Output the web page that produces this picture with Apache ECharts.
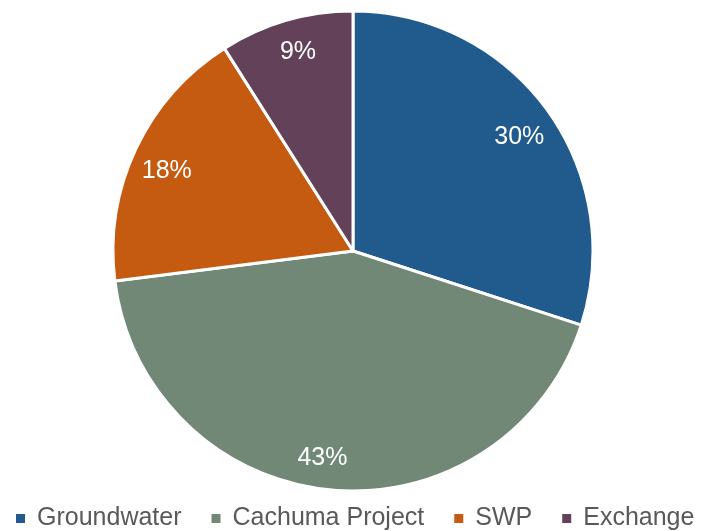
<!DOCTYPE html>
<html>
<head>
<meta charset="utf-8">
<style>
  html, body { margin: 0; padding: 0; background: #fff; }
  #chart { width: 703px; height: 531px; }
</style>
<script src="https://cdn.jsdelivr.net/npm/echarts@6/dist/echarts.min.js"></script>
</head>
<body>
<div id="chart"></div>
<script>
const categories = ['Groundwater', 'Cachuma Project', 'SWP', 'Exchange']
const shares = [30, 43, 18, 9]
const colors = ['#215A8C', '#728877', '#C55A11', '#634158']

const font = '"Liberation Sans", Arial, sans-serif'
const data = categories.map((name, i) => ({ name, value: shares[i], itemStyle: { color: colors[i] } }))
// small per-label nudges (px) so the labels sit where the original put them
const nudge = [[-2, 8], [-11, 0], [2, 9], [3, 1]]

const chart = echarts.init(document.getElementById('chart'))
chart.setOption({
  animation: false,
  color: colors,
  legend: {
    data: categories,
    left: 14,
    top: 506,
    width: 689,
    padding: 0,
    icon: 'rect',
    itemWidth: 11,
    itemHeight: 11,
    itemGap: 28,
    textStyle: { fontFamily: font, fontSize: 25, color: '#595959', padding: [0, 0, 0, 6] }
  },
  series: [
    {
      type: 'pie',
      center: [353, 251],
      radius: [0, 240],
      startAngle: 90,
      clockwise: true,
      silent: true,
      label: { show: false },
      labelLine: { show: false },
      itemStyle: { borderColor: '#fff', borderWidth: 3 },
      data
    },
    // transparent ring only to place the percent labels near the rim
    {
      type: 'pie',
      center: [353, 251],
      radius: [170, 240],
      startAngle: 90,
      clockwise: true,
      silent: true,
      legendHoverLink: false,
      itemStyle: { color: 'rgba(0,0,0,0)', borderWidth: 0 },
      label: {
        show: true,
        position: 'inside',
        formatter: p => p.value + '%',
        fontFamily: font,
        fontSize: 25,
        color: '#fff'
      },
      labelLayout: p => ({ dx: nudge[p.dataIndex][0], dy: nudge[p.dataIndex][1] }),
      labelLine: { show: false },
      data: categories.map((name, i) => ({ name, value: shares[i] }))
    }
  ]
})
</script>
</body>
</html>
